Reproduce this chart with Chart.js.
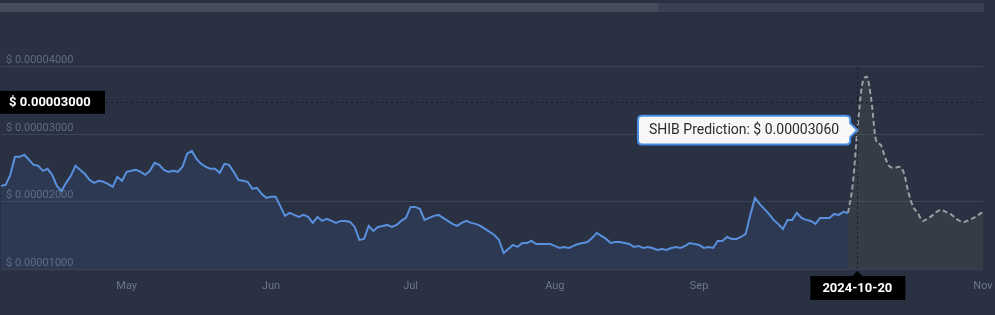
<!DOCTYPE html>
<html>
<head>
<meta charset="utf-8">
<script src="https://cdn.jsdelivr.net/npm/chart.js@4.4.1/dist/chart.umd.min.js"></script>
<style>
  html, body { margin: 0; padding: 0; background: #293142; overflow: hidden; }
  #wrap { width: 995px; height: 315px; }
</style>
</head>
<body>
<div id="wrap"><canvas id="shib_chart"></canvas></div>
<script>
// daily prices, first day 2024-04-19
const startDate = "2024-04-19";
const dayCount = 212;

const historyPrices = [
  0.00002233, 0.00002248, 0.00002397, 0.00002664, 0.00002664, 0.00002694, 0.00002620, 0.00002545,
  0.00002530, 0.00002456, 0.00002486, 0.00002397, 0.00002233, 0.00002159, 0.00002278, 0.00002382,
  0.00002530, 0.00002471, 0.00002412, 0.00002322, 0.00002278, 0.00002308, 0.00002293, 0.00002263,
  0.00002218, 0.00002367, 0.00002308, 0.00002441, 0.00002456, 0.00002471, 0.00002441, 0.00002397,
  0.00002456, 0.00002575, 0.00002545, 0.00002471, 0.00002441, 0.00002456, 0.00002441, 0.00002516,
  0.00002709, 0.00002753, 0.00002634, 0.00002560, 0.00002516, 0.00002486, 0.00002486, 0.00002426,
  0.00002560, 0.00002545, 0.00002441, 0.00002322, 0.00002308, 0.00002293, 0.00002189, 0.00002204,
  0.00002114, 0.00002055, 0.00002070, 0.00002070, 0.00001936, 0.00001788, 0.00001832, 0.00001802,
  0.00001773, 0.00001802, 0.00001773, 0.00001684, 0.00001773, 0.00001713, 0.00001743, 0.00001713,
  0.00001684, 0.00001713, 0.00001713, 0.00001698, 0.00001624, 0.00001431, 0.00001446, 0.00001639,
  0.00001565, 0.00001624, 0.00001639, 0.00001654, 0.00001624, 0.00001654, 0.00001713, 0.00001758,
  0.00001921, 0.00001921, 0.00001892, 0.00001728, 0.00001758, 0.00001788, 0.00001802, 0.00001758,
  0.00001713, 0.00001669, 0.00001639, 0.00001684, 0.00001713, 0.00001684, 0.00001669, 0.00001639,
  0.00001594, 0.00001550, 0.00001505, 0.00001431, 0.00001238, 0.00001297, 0.00001357, 0.00001327,
  0.00001386, 0.00001386, 0.00001416, 0.00001371, 0.00001371, 0.00001371, 0.00001371, 0.00001342,
  0.00001312, 0.00001327, 0.00001312, 0.00001342, 0.00001371, 0.00001386, 0.00001401, 0.00001461,
  0.00001535, 0.00001490, 0.00001446, 0.00001386, 0.00001401, 0.00001401, 0.00001386, 0.00001371,
  0.00001327, 0.00001342, 0.00001312, 0.00001327, 0.00001312, 0.00001282, 0.00001297, 0.00001282,
  0.00001312, 0.00001327, 0.00001312, 0.00001342, 0.00001386, 0.00001371, 0.00001357, 0.00001312,
  0.00001327, 0.00001312, 0.00001416, 0.00001416, 0.00001475, 0.00001446, 0.00001446, 0.00001475,
  0.00001520, 0.00001802, 0.00002055, 0.00001966, 0.00001892, 0.00001817, 0.00001728, 0.00001669,
  0.00001594, 0.00001728, 0.00001728, 0.00001832, 0.00001758, 0.00001728, 0.00001713, 0.00001669,
  0.00001758, 0.00001758, 0.00001758, 0.00001817, 0.00001802, 0.00001847, 0.00001832,
];

// prediction starts on the last history day
const predictionStart = 182;
const predictionPrices = [
  0.00001832, 0.00002248, 0.00003060, 0.00003719, 0.00003853, 0.00003511, 0.00002917, 0.00002843,
  0.00002649, 0.00002516, 0.00002501, 0.00002516, 0.00002426, 0.00002129, 0.00001921, 0.00001832,
  0.00001713, 0.00001743, 0.00001788, 0.00001847, 0.00001877, 0.00001847, 0.00001817, 0.00001758,
  0.00001713, 0.00001698, 0.00001728, 0.00001758, 0.00001802, 0.00001847,
];

const yTicks = [0.00001, 0.00002, 0.00003, 0.00004];
const monthTickDays = [27, 58, 88, 119, 150, 180, 211];
const monthTickLabels = ["May", "Jun", "Jul", "Aug", "Sep", "Oct", "Nov"];

// hovered point and crosshair
const hoverDay = 184;
const crosshairPrice = 0.0000348;
const crosshairPriceLabel = "$ 0.00003000";

function buildDates() {
  const out = [];
  const d0 = new Date(startDate + "T00:00:00Z");
  for (let i = 0; i < dayCount; i++) {
    const d = new Date(d0.getTime() + i * 86400000);
    out.push(d.toISOString().slice(0, 10));
  }
  return out;
}

const labels = buildDates();
const historyData = labels.map((_, i) => (i < historyPrices.length ? historyPrices[i] : null));
const predictionData = labels.map((_, i) =>
  i >= predictionStart ? predictionPrices[i - predictionStart] : null,
);

const fmt = (v) => "$ " + v.toFixed(8);

// background, navigator strip, crosshair lines and labels
const decorations = {
  id: "decorations",
  beforeDraw(chart) {
    const ctx = chart.ctx;
    ctx.save();
    ctx.fillStyle = "#293142";
    ctx.fillRect(0, 0, chart.width, chart.height);
    ctx.fillStyle = "#394152";
    ctx.fillRect(0, 3, 984, 9);
    ctx.fillStyle = "#454d5c";
    ctx.fillRect(0, 3, 658, 9);
    ctx.restore();
  },
  afterDatasetsDraw(chart) {
    const { ctx, chartArea, scales } = chart;
    const x = scales.x.getPixelForValue(hoverDay);
    const y = scales.y.getPixelForValue(crosshairPrice);
    ctx.save();
    ctx.strokeStyle = "#151a23";
    ctx.lineWidth = 1;
    ctx.setLineDash([2, 3]);
    ctx.beginPath();
    ctx.moveTo(106, Math.round(y) + 0.5);
    ctx.lineTo(chartArea.right, Math.round(y) + 0.5);
    ctx.moveTo(Math.round(x) + 0.5, scales.y.getPixelForValue(0.00004));
    ctx.lineTo(Math.round(x) + 0.5, chartArea.bottom);
    ctx.stroke();
    ctx.setLineDash([]);

    ctx.font = "bold 13px Roboto";
    ctx.textBaseline = "middle";

    // y crosshair label
    ctx.fillStyle = "#000";
    ctx.fillRect(0, y - 11, 105, 23);
    ctx.fillStyle = "#fff";
    ctx.textAlign = "left";
    ctx.fillText(crosshairPriceLabel, 9, y + 1);

    // x crosshair label
    const bx = x - 47;
    const by = chartArea.bottom + 7;
    ctx.fillStyle = "#000";
    ctx.fillRect(bx, by, 95, 24);
    ctx.beginPath();
    ctx.moveTo(x - 5, by);
    ctx.lineTo(x, by - 5);
    ctx.lineTo(x + 5, by);
    ctx.fill();
    ctx.fillStyle = "#fff";
    ctx.textAlign = "center";
    ctx.fillText(labels[hoverDay], x, by + 12.5);
    ctx.restore();
  },
};

function createPredictionChart() {
  const data = {
    labels: labels,
    datasets: [
      {
        label: "SHIB Price",
        data: historyData,
        borderColor: "#5890de",
        borderWidth: 2,
        backgroundColor: "rgba(74, 110, 180, 0.15)",
        fill: "start",
        pointRadius: 0,
        pointHoverRadius: 0,
        tension: 0,
      },
      {
        label: "SHIB Prediction",
        data: predictionData,
        borderColor: "#9b9da1",
        borderWidth: 2,
        borderDash: [5, 3],
        backgroundColor: "rgba(106, 104, 96, 0.2)",
        fill: "start",
        pointRadius: 0,
        pointHoverRadius: 0,
        cubicInterpolationMode: "monotone",
      },
    ],
  };

  const config = {
    type: "line",
    data,
    options: {
      responsive: false,
      animation: false,
      events: [],
      layout: { padding: { top: 33, right: 12, left: 0, bottom: 0 } },
      plugins: {
        legend: { display: false },
        tooltip: {
          enabled: true,
          xAlign: "right",
          yAlign: "center",
          backgroundColor: "#f7f7f7",
          borderColor: "#4a8ee2",
          borderWidth: 2,
          cornerRadius: 4,
          caretSize: 7,
          caretPadding: 0,
          displayColors: false,
          padding: { left: 11, right: 11, top: 6, bottom: 6 },
          bodyColor: "#2b2b2b",
          bodyFont: { size: 14, family: "Roboto" },
          callbacks: {
            title: () => "",
            label: (item) => item.dataset.label + ": " + fmt(item.parsed.y),
          },
        },
      },
      scales: {
        x: {
          grid: { display: false, drawTicks: false },
          border: { display: false },
          afterBuildTicks: (scale) => {
            scale.ticks = monthTickDays.map((v) => ({ value: v }));
          },
          afterFit: (scale) => {
            scale.height = 46;
            scale.paddingLeft = 0;
            scale.paddingRight = 0;
          },
          ticks: {
            autoSkip: false,
            maxRotation: 0,
            padding: 11,
            color: "#6d7789",
            font: { size: 11, family: "Roboto" },
            callback: (value, index) => monthTickLabels[index],
          },
        },
        y: {
          min: 0.00001,
          max: 0.000045,
          border: { display: false },
          grid: { color: "#3a4456", drawTicks: false },
          afterBuildTicks: (scale) => {
            scale.ticks = yTicks.map((v) => ({ value: v }));
          },
          afterFit: (scale) => {
            scale.width = 0;
          },
          ticks: {
            mirror: true,
            padding: 5,
            labelOffset: -6,
            color: "#5f6b7e",
            font: { size: 11, family: "Roboto" },
            callback: (v) => fmt(v),
          },
        },
      },
    },
    plugins: [decorations],
  };

  const canvas = document.getElementById("shib_chart");
  canvas.width = 995;
  canvas.height = 315;
  const chart = new Chart(canvas, config);

  // show the prediction tooltip for the hovered day
  chart.tooltip.setActiveElements([{ datasetIndex: 1, index: hoverDay }], { x: 0, y: 0 });
  chart.update();
}

createPredictionChart();
</script>
</body>
</html>
